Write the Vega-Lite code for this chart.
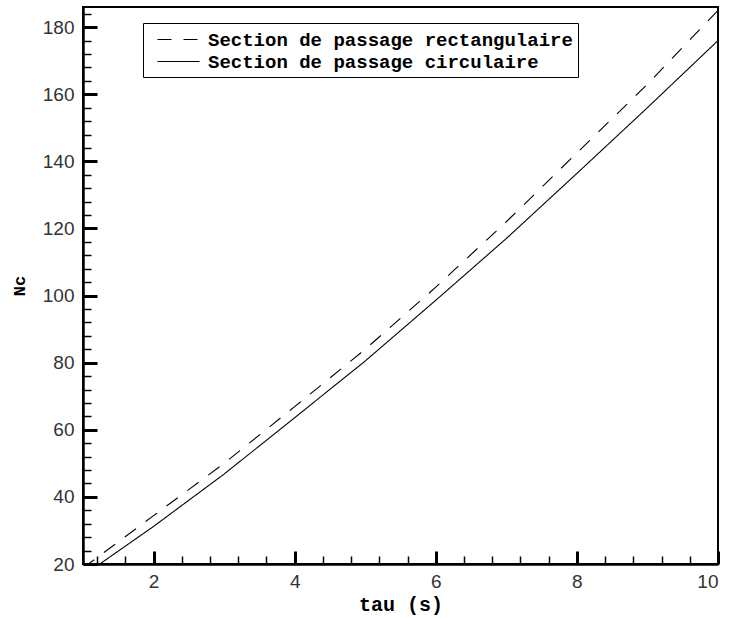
{
  "$schema": "https://vega.github.io/schema/vega-lite/v6.json",
  "width": 635,
  "height": 557,
  "autosize": {"type": "none"},
  "padding": {"left": 83, "top": 7, "right": 14, "bottom": 54},
  "background": "white",
  "data": {
    "values": [
      {"tau": 1.0, "Nc": 18.8, "section": "Section de passage rectangulaire"},
      {"tau": 2.0, "Nc": 34.4, "section": "Section de passage rectangulaire"},
      {"tau": 3.0, "Nc": 50.0, "section": "Section de passage rectangulaire"},
      {"tau": 4.0, "Nc": 66.9, "section": "Section de passage rectangulaire"},
      {"tau": 5.0, "Nc": 84.0, "section": "Section de passage rectangulaire"},
      {"tau": 6.0, "Nc": 102.5, "section": "Section de passage rectangulaire"},
      {"tau": 7.0, "Nc": 122.0, "section": "Section de passage rectangulaire"},
      {"tau": 8.0, "Nc": 142.5, "section": "Section de passage rectangulaire"},
      {"tau": 9.0, "Nc": 163.0, "section": "Section de passage rectangulaire"},
      {"tau": 10.0, "Nc": 185.0, "section": "Section de passage rectangulaire"},
      {"tau": 1.0, "Nc": 16.5, "section": "Section de passage circulaire"},
      {"tau": 2.0, "Nc": 31.2, "section": "Section de passage circulaire"},
      {"tau": 3.0, "Nc": 46.8, "section": "Section de passage circulaire"},
      {"tau": 4.0, "Nc": 63.6, "section": "Section de passage circulaire"},
      {"tau": 5.0, "Nc": 80.5, "section": "Section de passage circulaire"},
      {"tau": 6.0, "Nc": 98.6, "section": "Section de passage circulaire"},
      {"tau": 7.0, "Nc": 117.0, "section": "Section de passage circulaire"},
      {"tau": 8.0, "Nc": 136.4, "section": "Section de passage circulaire"},
      {"tau": 9.0, "Nc": 156.0, "section": "Section de passage circulaire"},
      {"tau": 10.0, "Nc": 176.0, "section": "Section de passage circulaire"}
    ]
  },
  "mark": {"type": "line", "clip": true, "color": "black", "strokeWidth": 1.1},
  "encoding": {
    "x": {
      "field": "tau",
      "type": "quantitative",
      "scale": {"domain": [1, 10], "nice": false, "zero": false},
      "axis": {
        "title": "tau (s)",
        "values": [1.2, 1.6, 2, 2.4, 2.8, 3.2, 3.6, 4, 4.4, 4.8, 5.2, 5.6, 6, 6.4, 6.8, 7.2, 7.6, 8, 8.4, 8.8, 9.2, 9.6, 10],
        "labelExpr": "abs(datum.value / 2 - round(datum.value / 2)) < 0.01 ? format(datum.value, 'd') : ''",
        "tickSize": {"condition": {"test": "abs(datum.value / 2 - round(datum.value / 2)) < 0.01", "value": -13}, "value": -8},
        "tickWidth": {"condition": {"test": "abs(datum.value / 2 - round(datum.value / 2)) < 0.01", "value": 3}, "value": 1.5},
        "labelPadding": 21,
        "titleFontSize": 20,
        "titleBaseline": "alphabetic",
        "titleY": 46
      }
    },
    "y": {
      "field": "Nc",
      "type": "quantitative",
      "scale": {"domain": [20, 186], "nice": false, "zero": false},
      "axis": {
        "title": "Nc",
        "values": [20, 24, 28, 32, 36, 40, 44, 48, 52, 56, 60, 64, 68, 72, 76, 80, 84, 88, 92, 96, 100, 104, 108, 112, 116, 120, 124, 128, 132, 136, 140, 144, 148, 152, 156, 160, 164, 168, 172, 176, 180, 184],
        "labelExpr": "datum.value % 20 === 0 ? format(datum.value, 'd') : ''",
        "tickSize": {"condition": {"test": "datum.value % 20 === 0", "value": -14}, "value": -8},
        "tickWidth": {"condition": {"test": "datum.value % 20 === 0", "value": 3}, "value": 1.5},
        "labelPadding": 23,
        "titleFontSize": 17,
        "titleX": -64,
        "titleBaseline": "middle"
      }
    },
    "strokeDash": {
      "field": "section",
      "type": "nominal",
      "sort": ["Section de passage rectangulaire", "Section de passage circulaire"],
      "scale": {
        "domain": ["Section de passage rectangulaire", "Section de passage circulaire"],
        "range": [[14, 12], [1, 0]]
      },
      "legend": {
        "title": null,
        "orient": "none",
        "legendX": 60,
        "legendY": 16,
        "padding": 5,
        "symbolOffset": 19,
        "rowPadding": 0
      }
    }
  },
  "config": {
    "view": {"stroke": "black", "strokeWidth": 2},
    "axis": {
      "grid": false,
      "domainColor": "black",
      "domainWidth": 2.5,
      "tickColor": "black",
      "labelFont": "Liberation Sans",
      "labelFontSize": 19,
      "labelColor": "#333333",
      "titleFont": "Liberation Mono",
      "titleFontWeight": "bold",
      "titleColor": "black"
    },
    "legend": {
      "strokeColor": "black",
      "fillColor": "white",
      "labelFont": "Liberation Mono",
      "labelFontWeight": "bold",
      "labelFontSize": 19,
      "labelColor": "black",
      "labelOffset": 18,
      "labelLimit": 0,
      "symbolType": "M-2,0H2",
      "symbolSize": 441,
      "symbolStrokeColor": "black",
      "symbolStrokeWidth": 1.1
    }
  }
}
